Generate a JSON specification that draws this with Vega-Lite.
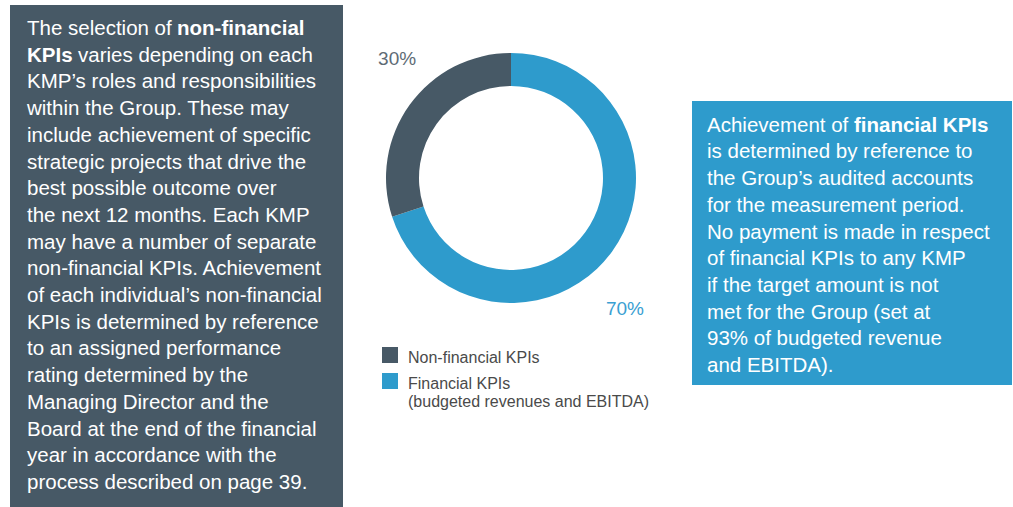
{
  "$schema": "https://vega.github.io/schema/vega-lite/v6.json",
  "padding": {"left": 10, "top": 5, "right": 0, "bottom": 0},
  "autosize": {"type": "pad"},
  "background": "white",
  "config": {"view": {"stroke": null}, "font": "Liberation Sans", "style": {"guide-label": {"dy": -5}}},
  "datasets": {
    "left": [
      {"line": 1, "text": "The selection of", "part": "start", "weight": "normal"},
      {"line": 1, "text": "non-financial", "part": "cont", "weight": "bold"},
      {"line": 2, "text": "KPIs", "part": "start", "weight": "bold"},
      {"line": 2, "text": "varies depending on each", "part": "cont", "weight": "normal"},
      {"line": 3, "text": "KMP’s roles and responsibilities", "part": "start", "weight": "normal"},
      {"line": 4, "text": "within the Group. These may", "part": "start", "weight": "normal"},
      {"line": 5, "text": "include achievement of specific", "part": "start", "weight": "normal"},
      {"line": 6, "text": "strategic projects that drive the", "part": "start", "weight": "normal"},
      {"line": 7, "text": "best possible outcome over", "part": "start", "weight": "normal"},
      {"line": 8, "text": "the next 12 months. Each KMP", "part": "start", "weight": "normal"},
      {"line": 9, "text": "may have a number of separate", "part": "start", "weight": "normal"},
      {"line": 10, "text": "non-financial KPIs. Achievement", "part": "start", "weight": "normal"},
      {"line": 11, "text": "of each individual’s non-financial", "part": "start", "weight": "normal"},
      {"line": 12, "text": "KPIs is determined by reference", "part": "start", "weight": "normal"},
      {"line": 13, "text": "to an assigned performance", "part": "start", "weight": "normal"},
      {"line": 14, "text": "rating determined by the", "part": "start", "weight": "normal"},
      {"line": 15, "text": "Managing Director and the", "part": "start", "weight": "normal"},
      {"line": 16, "text": "Board at the end of the financial", "part": "start", "weight": "normal"},
      {"line": 17, "text": "year in accordance with the", "part": "start", "weight": "normal"},
      {"line": 18, "text": "process described on page 39.", "part": "start", "weight": "normal"}
    ],
    "right": [
      {"line": 1, "text": "Achievement of", "part": "start", "weight": "normal"},
      {"line": 1, "text": "financial KPIs", "part": "cont", "weight": "bold"},
      {"line": 2, "text": "is determined by reference to", "part": "start", "weight": "normal"},
      {"line": 3, "text": "the Group’s audited accounts", "part": "start", "weight": "normal"},
      {"line": 4, "text": "for the measurement period.", "part": "start", "weight": "normal"},
      {"line": 5, "text": "No payment is made in respect", "part": "start", "weight": "normal"},
      {"line": 6, "text": "of financial KPIs to any KMP", "part": "start", "weight": "normal"},
      {"line": 7, "text": "if the target amount is not", "part": "start", "weight": "normal"},
      {"line": 8, "text": "met for the Group (set at", "part": "start", "weight": "normal"},
      {"line": 9, "text": "93% of budgeted revenue", "part": "start", "weight": "normal"},
      {"line": 10, "text": "and EBITDA).", "part": "start", "weight": "normal"}
    ],
    "kpi": [
      {"cat": "Financial KPIs", "pct": 70, "ord": 1, "label": "70%"},
      {"cat": "Non-financial KPIs", "pct": 30, "ord": 2, "label": "30%"}
    ]
  },
  "bounds": "flush",
  "spacing": 27,
  "hconcat": [
    {
      "width": 333,
      "height": 502,
      "view": {"fill": "#475966", "stroke": null},
      "data": {"name": "left"},
      "encoding": {
        "x": {"datum": 0, "type": "quantitative", "scale": {"domain": [0, 1]}, "axis": null},
        "y": {"field": "line", "type": "quantitative", "scale": {"domain": [-0.124, 18.677], "reverse": true, "nice": false, "zero": false}, "axis": null},
        "text": {"field": "text"}
      },
      "layer": [
        {"transform": [{"filter": "datum.part == 'start' && datum.weight == 'normal'"}],
         "mark": {"type": "text", "align": "left", "baseline": "alphabetic", "dx": 17, "fontSize": 20.5, "color": "#ffffff"}},
        {"transform": [{"filter": "datum.part == 'start' && datum.weight == 'bold'"}],
         "mark": {"type": "text", "align": "left", "baseline": "alphabetic", "dx": 17, "fontSize": 20.5, "fontWeight": "bold", "color": "#ffffff"}},
        {"transform": [{"filter": "datum.part == 'cont' && datum.weight == 'bold'"}],
         "mark": {"type": "text", "align": "left", "baseline": "alphabetic", "dx": 167, "fontSize": 20.5, "fontWeight": "bold", "color": "#ffffff"}},
        {"transform": [{"filter": "datum.part == 'cont' && datum.weight == 'normal'"}],
         "mark": {"type": "text", "align": "left", "baseline": "alphabetic", "dx": 68, "fontSize": 20.5, "color": "#ffffff"}}
      ]
    },
    {
      "bounds": "flush",
      "spacing": 40,
      "hconcat": [
        {
          "width": 282,
          "height": 346,
          "data": {"name": "kpi"},
          "encoding": {
            "theta": {"field": "pct", "type": "quantitative", "stack": true},
            "order": {"field": "ord", "type": "quantitative"}
          },
          "layer": [
            {
              "mark": {"type": "arc", "outerRadius": 125, "innerRadius": 92, "stroke": null},
              "encoding": {
                "color": {
                  "field": "cat",
                  "type": "nominal",
                  "scale": {"domain": ["Non-financial KPIs", "Financial KPIs"], "range": ["#475966", "#2e9bcc"]},
                  "legend": {
                    "title": null,
                    "orient": "none",
                    "legendX": 372,
                    "legendY": 342,
                    "symbolType": "square",
                    "symbolSize": 256,
                    "symbolStrokeWidth": 0,
                    "symbolOpacity": 1,
                    "labelFontSize": 16,
                    "labelColor": "#4a4a4a",
                    "labelFont": "Liberation Sans",
                    "labelLimit": 400,
                    "labelOffset": 10,
                    "labelBaseline": "top",
                    "rowPadding": 7,
                    "labelExpr": "datum.label == 'Financial KPIs' ? ['Financial KPIs', '(budgeted revenues and EBITDA)'] : datum.label"
                  }
                }
              }
            },
            {
              "mark": {"type": "text", "radius": 168, "dx": 22, "dy": -20, "fontSize": 19, "align": "center", "baseline": "middle", "color": "#5e6b75"},
              "encoding": {
                "text": {"condition": {"test": "datum.cat == 'Non-financial KPIs'", "field": "label"}, "value": ""}
              }
            },
            {
              "mark": {"type": "text", "radius": 168, "dx": -22, "dy": 32, "fontSize": 19, "align": "center", "baseline": "middle", "color": "#3aa0d2"},
              "encoding": {
                "text": {"condition": {"test": "datum.cat == 'Financial KPIs'", "field": "label"}, "value": ""}
              }
            }
          ]
        },
        {
          "bounds": "flush",
          "spacing": 10,
          "vconcat": [
            {
              "width": 320,
              "height": 86,
              "data": {"values": []},
              "mark": {"type": "text"},
              "encoding": {}
            },
            {
              "width": 320,
              "height": 284,
              "view": {"fill": "#2e9bcc", "stroke": null},
              "data": {"name": "right"},
              "encoding": {
                "x": {"datum": 0, "type": "quantitative", "scale": {"domain": [0, 1]}, "axis": null},
                "y": {"field": "line", "type": "quantitative", "scale": {"domain": [-0.15, 10.487], "reverse": true, "nice": false, "zero": false}, "axis": null},
                "text": {"field": "text"}
              },
              "layer": [
                {"transform": [{"filter": "datum.part == 'start'"}],
                 "mark": {"type": "text", "align": "left", "baseline": "alphabetic", "dx": 15, "fontSize": 20.5, "color": "#ffffff"}},
                {"transform": [{"filter": "datum.part == 'cont'"}],
                 "mark": {"type": "text", "align": "left", "baseline": "alphabetic", "dx": 162, "fontSize": 20.5, "fontWeight": "bold", "color": "#ffffff"}}
              ]
            }
          ]
        }
      ]
    }
  ]
}
